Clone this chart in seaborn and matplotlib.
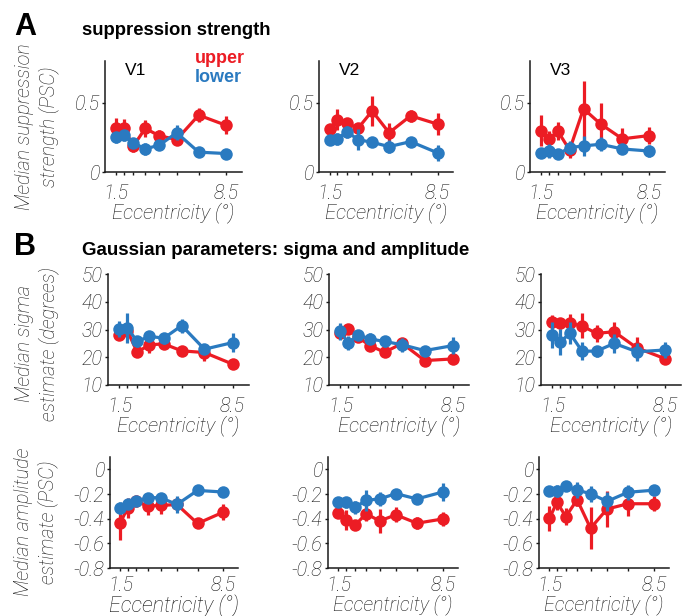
import numpy as np
import pandas as pd
import matplotlib
matplotlib.use("Agg")
import matplotlib.pyplot as plt
import seaborn as sns

# ---------------- data ----------------
ECC = [1.5, 2.0, 2.6, 3.35, 4.25, 5.35, 6.75, 8.5]
XTICKLABELS = ["1.5", "", "", "", "", "", "", "8.5"]
AREAS = ["V1", "V2", "V3"]

# Row A: median suppression strength (PSC)
SUPP_V1_UP = [0.319, 0.319, 0.186, 0.314, 0.261, 0.234, 0.410, 0.336]
SUPP_V1_UP_ERR = [0.07, 0.065, 0.04, 0.06, 0.04, 0.03, 0.05, 0.065]
SUPP_V1_LO = [0.249, 0.266, 0.210, 0.167, 0.193, 0.283, 0.143, 0.133]
SUPP_V1_LO_ERR = [0.04, 0.04, 0.035, 0.045, 0.035, 0.055, 0.02, 0.025]

SUPP_V2_UP = [0.310, 0.376, 0.350, 0.317, 0.440, 0.283, 0.405, 0.345]
SUPP_V2_UP_ERR = [0.02, 0.075, 0.035, 0.03, 0.105, 0.07, 0.045, 0.08]
SUPP_V2_LO = [0.231, 0.238, 0.290, 0.233, 0.214, 0.183, 0.219, 0.138]
SUPP_V2_LO_ERR = [0.03, 0.04, 0.045, 0.075, 0.035, 0.045, 0.03, 0.06]

SUPP_V3_UP = [0.298, 0.237, 0.293, 0.159, 0.456, 0.346, 0.239, 0.263]
SUPP_V3_UP_ERR = [[0.11, 0.06, 0.065, 0.055, 0.31, 0.17, 0.07, 0.06],
                  [0.11, 0.06, 0.065, 0.055, 0.20, 0.154, 0.08, 0.06]]
SUPP_V3_LO = [0.134, 0.154, 0.127, 0.176, 0.188, 0.200, 0.166, 0.151]
SUPP_V3_LO_ERR = [0.03, 0.05, 0.02, 0.045, 0.075, 0.05, 0.035, 0.04]

# Row B1: median sigma estimate (degrees)
SIGMA_V1_UP = [28.1, 29.5, 21.8, 24.5, 24.8, 22.3, 21.7, 17.5]
SIGMA_V1_UP_ERR = [2.0, 2.0, 1.5, 3.0, 1.5, 1.0, 3.0, 1.0]
SIGMA_V1_LO = [30.2, 30.5, 25.7, 27.5, 26.9, 31.4, 22.9, 25.3]
SIGMA_V1_LO_ERR = [3.0, 5.5, 2.0, 2.0, 2.0, 2.5, 1.5, 3.5]

SIGMA_V2_UP = [28.6, 30.2, 27.2, 24.2, 21.8, 25.0, 18.8, 19.4]
SIGMA_V2_UP_ERR = [2.0, 1.5, 1.5, 1.5, 1.5, 2.0, 1.0, 1.0]
SIGMA_V2_LO = [29.3, 25.1, 28.0, 26.6, 25.7, 24.5, 22.4, 24.2]
SIGMA_V2_LO_ERR = [3.0, 2.5, 1.5, 2.0, 2.0, 2.5, 1.5, 3.0]

SIGMA_V3_UP = [32.8, 32.2, 32.2, 31.3, 28.6, 29.2, 23.4, 19.5]
SIGMA_V3_UP_ERR = [2.5, 2.0, 3.5, 4.5, 3.0, 3.5, 4.0, 2.0]
SIGMA_V3_LO = [28.0, 25.6, 28.6, 22.2, 22.2, 25.0, 22.0, 22.6]
SIGMA_V3_LO_ERR = [4.8, 4.7, 4.0, 3.3, 2.0, 3.3, 3.3, 3.0]

# Row B2: median amplitude estimate (PSC)
AMP_V1_UP = [-0.434, -0.312, -0.258, -0.298, -0.293, -0.285, -0.439, -0.347]
AMP_V1_UP_ERR = [[0.135, 0.08, 0.03, 0.07, 0.07, 0.03, 0.03, 0.065],
                 [0.11, 0.08, 0.03, 0.07, 0.07, 0.03, 0.03, 0.065]]
AMP_V1_LO = [-0.312, -0.285, -0.258, -0.230, -0.230, -0.285, -0.171, -0.184]
AMP_V1_LO_ERR = [0.05, 0.04, 0.03, 0.03, 0.04, 0.07, 0.02, 0.02]

AMP_V2_UP = [-0.355, -0.410, -0.454, -0.360, -0.418, -0.369, -0.437, -0.402]
AMP_V2_UP_ERR = [0.04, 0.08, 0.04, 0.055, 0.10, 0.06, 0.05, 0.055]
AMP_V2_LO = [-0.268, -0.268, -0.309, -0.251, -0.240, -0.197, -0.240, -0.183]
AMP_V2_LO_ERR = [0.04, 0.045, 0.05, 0.085, 0.055, 0.035, 0.03, 0.07]

AMP_V3_UP = [-0.396, -0.268, -0.383, -0.246, -0.478, -0.322, -0.279, -0.279]
AMP_V3_UP_ERR = [0.10, 0.065, 0.07, 0.05, 0.17, 0.145, 0.10, 0.06]
AMP_V3_LO = [-0.178, -0.178, -0.137, -0.169, -0.197, -0.260, -0.186, -0.169]
AMP_V3_LO_ERR = [0.03, 0.05, 0.03, 0.065, 0.065, 0.075, 0.06, 0.035]

SUPP_TICKS = [0, 0.5]
SUPP_TICKLABELS = ["0", "0.5"]
SIGMA_TICKS = [10, 20, 30, 40, 50]
SIGMA_TICKLABELS = ["10", "20", "30", "40", "50"]
AMP_TICKS = [0, -0.2, -0.4, -0.6, -0.8]
AMP_TICKLABELS = ["0", "-0.2", "-0.4", "-0.6", "-0.8"]

# ---------------- style ----------------
RED = "#EC1C24"
BLUE = "#2A7AC0"
TXT = "#141414"
AX = "#1a1a1a"
LIGHT = dict(family=["Roboto", "Liberation Sans", "DejaVu Sans"], weight="light",
             style="italic")

sns.set_style("ticks")
plt.rcParams["font.family"] = ["Liberation Sans", "DejaVu Sans"]
plt.rcParams["axes.unicode_minus"] = False

W, H = 697, 616
fig = plt.figure(figsize=(W / 100, H / 100), dpi=100)


def add_axes(left, right, top, bottom):
    return fig.add_axes([left / W, 1 - bottom / H, (right - left) / W, (bottom - top) / H])


def draw_series(ax, y, err, color, z):
    ax.errorbar(ECC, y, yerr=err, fmt="none", ecolor=color, elinewidth=2.3,
                capsize=0, zorder=z)
    df = pd.DataFrame({"ecc": ECC, "val": y})
    sns.lineplot(data=df, x="ecc", y="val", ax=ax, color=color, marker="o",
                 markersize=9, linewidth=2.3, markeredgewidth=0,
                 markeredgecolor=color, errorbar=None, zorder=z + 0.5,
                 legend=False)


def style_axes(ax, ylim, yticks, yticklabels, xlabel_size, labelpad, xpad):
    ax.set_xlim(0.8, 9.5)
    ax.set_ylim(*ylim)
    ax.set_xticks(ECC)
    ax.set_xticklabels(XTICKLABELS)
    ax.set_yticks(yticks)
    ax.set_yticklabels(yticklabels)
    sns.despine(ax=ax)
    for s in ["left", "bottom"]:
        ax.spines[s].set_color(AX)
        ax.spines[s].set_linewidth(1.1)
    ax.tick_params(axis="both", colors=AX, length=2.5, width=1.0,
                   labelcolor=TXT)
    ax.tick_params(axis="x", pad=xpad)
    ax.tick_params(axis="y", pad=1.5)
    for lab in ax.get_xticklabels() + ax.get_yticklabels():
        lab.set_fontproperties(dict(LIGHT, size=14.2))
    ax.set_xlabel("Eccentricity (°)", fontdict=dict(LIGHT, size=xlabel_size),
                  color=TXT, labelpad=labelpad)
    ax.set_ylabel("")


rows = [
    dict(pos=[(105, 242), (319, 453), (530, 665)], tb=(61, 172),
         up=[SUPP_V1_UP, SUPP_V2_UP, SUPP_V3_UP],
         upe=[SUPP_V1_UP_ERR, SUPP_V2_UP_ERR, SUPP_V3_UP_ERR],
         lo=[SUPP_V1_LO, SUPP_V2_LO, SUPP_V3_LO],
         loe=[SUPP_V1_LO_ERR, SUPP_V2_LO_ERR, SUPP_V3_LO_ERR],
         ylim=(0, 0.8), yt=SUPP_TICKS, ytl=SUPP_TICKLABELS),
    dict(pos=[(108, 249), (329, 469), (541, 681)], tb=(274, 385),
         up=[SIGMA_V1_UP, SIGMA_V2_UP, SIGMA_V3_UP],
         upe=[SIGMA_V1_UP_ERR, SIGMA_V2_UP_ERR, SIGMA_V3_UP_ERR],
         lo=[SIGMA_V1_LO, SIGMA_V2_LO, SIGMA_V3_LO],
         loe=[SIGMA_V1_LO_ERR, SIGMA_V2_LO_ERR, SIGMA_V3_LO_ERR],
         ylim=(10, 50), yt=SIGMA_TICKS, ytl=SIGMA_TICKLABELS),
    dict(pos=[(110, 238), (328, 458), (539, 669)], tb=(457, 568),
         up=[AMP_V1_UP, AMP_V2_UP, AMP_V3_UP],
         upe=[AMP_V1_UP_ERR, AMP_V2_UP_ERR, AMP_V3_UP_ERR],
         lo=[AMP_V1_LO, AMP_V2_LO, AMP_V3_LO],
         loe=[AMP_V1_LO_ERR, AMP_V2_LO_ERR, AMP_V3_LO_ERR],
         ylim=(-0.8, 0.1), yt=AMP_TICKS, ytl=AMP_TICKLABELS),
]

for r, row in enumerate(rows):
    for c in range(3):
        l, rr = row["pos"][c]
        ax = add_axes(l, rr, row["tb"][0], row["tb"][1])
        draw_series(ax, row["up"][c], row["upe"][c], RED, 2)
        draw_series(ax, row["lo"][c], row["loe"][c], BLUE, 3)
        if r == 2:
            size = 15.5 if c == 0 else 14.2
            pad, xpad = -1.0, 3.5
        else:
            size, pad, xpad = 14.6, -0.5, 6.0
        style_axes(ax, row["ylim"], row["yt"], row["ytl"], size, pad, xpad)
        if r == 0:
            ax.text(0.145, 0.985, AREAS[c], transform=ax.transAxes, fontsize=12.5,
                    color="black", ha="left", va="top")

# y labels
ylabels = [("Median suppression\nstrength (PSC)", 37, 127),
           ("Median sigma\nestimate (degrees)", 37, 344),
           ("Median amplitude\nestimate (PSC)", 36, 522)]
for txt, x, y in ylabels:
    fig.text(x / W, 1 - y / H, txt, rotation=90, ha="center", va="center",
             multialignment="center", fontdict=dict(LIGHT, size=14.2), color=TXT,
             linespacing=1.2)

# panel letters and titles
fig.text(14 / W, 1 - 35 / H, "A", fontsize=22, fontweight="bold", ha="left",
         va="baseline", color="black")
fig.text(82 / W, 1 - 35 / H, "suppression strength", fontsize=13.3,
         fontweight="bold", ha="left", va="baseline", color="black")
fig.text(14 / W, 1 - 255 / H, "B", fontsize=22, fontweight="bold", ha="left",
         va="baseline", color="black")
fig.text(82 / W, 1 - 255 / H, "Gaussian parameters: sigma and amplitude",
         fontsize=13.5, fontweight="bold", ha="left", va="baseline", color="black")

# legend text
fig.text(195 / W, 1 - 63 / H, "upper", fontsize=13, fontweight="bold", color=RED,
         ha="left", va="baseline")
fig.text(195 / W, 1 - 82.5 / H, "lower", fontsize=13, fontweight="bold", color=BLUE,
         ha="left", va="baseline")

fig.savefig("out.png", dpi=100)
